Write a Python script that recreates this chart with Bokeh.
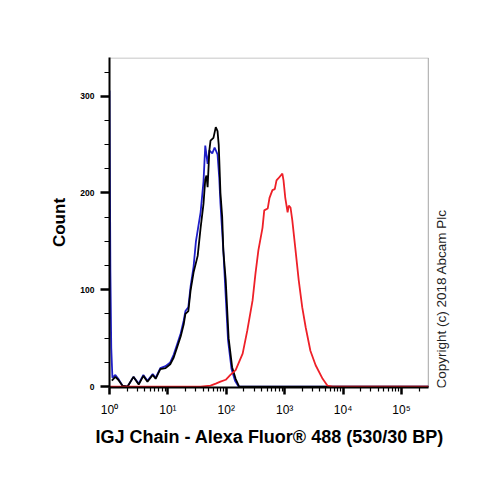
import numpy as np
from bokeh.plotting import figure
from bokeh.models import FixedTicker, Label, BoxAnnotation, Title
from bokeh.embed import file_html
from bokeh.resources import INLINE

# ---- data (x as log10 of fluorescence intensity, y as event count) ----
decades = [0, 1, 2, 3, 4, 5]
x_tick_labels = ["10⁰", "10¹", "10²", "10³", "10⁴", "10⁵"]
y_ticks = [0, 100, 200, 300]
y_minor = [25, 50, 75, 125, 150, 175, 225, 250, 275, 325]

blue_log_x = [0.0, 0.015, 0.03, 0.05, 0.10, 0.15, 0.22, 0.31, 0.41, 0.50, 0.58, 0.65,
              0.74, 0.79, 0.87, 0.96, 1.04, 1.10, 1.16, 1.22, 1.27, 1.30, 1.35, 1.39,
              1.44, 1.48, 1.52, 1.56, 1.61, 1.64, 1.68, 1.71, 1.76, 1.80, 1.85, 1.88,
              1.90, 1.93, 1.95, 1.98, 2.03, 2.09, 2.15, 2.21, 5.46]
blue_count = [306, 120, 40, 9, 12, 8, 1, 0, 10, 3, 12, 6,
              13, 9, 19, 21, 25, 33, 44, 55, 68, 78, 82, 104,
              124, 150, 165, 180, 212, 249, 230, 244, 241, 247, 240, 215,
              189, 160, 140, 105, 48, 18, 6, 0, 0]

black_log_x = [0.04, 0.10, 0.15, 0.22, 0.31, 0.41, 0.50, 0.58, 0.65, 0.74, 0.79, 0.87,
               0.96, 1.04, 1.10, 1.16, 1.22, 1.27, 1.30, 1.35, 1.39, 1.44, 1.51, 1.56,
               1.61, 1.64, 1.66, 1.68, 1.71, 1.73, 1.78, 1.82, 1.85, 1.87, 1.88, 1.90,
               1.93, 1.95, 1.99, 2.04, 2.10, 2.16, 2.22, 5.46]
black_count = [6, 10, 7, 1, 0, 10, 2, 11, 5, 12, 8, 18,
               19, 23, 30, 41, 52, 64, 75, 78, 100, 118, 135, 164,
               189, 214, 218, 206, 244, 254, 257, 268, 264, 250, 234, 200,
               175, 140, 110, 50, 20, 8, 0, 0]

red_log_x = [0.0, 1.56, 1.73, 1.82, 1.90, 1.99, 2.07, 2.16, 2.28, 2.36, 2.45, 2.50,
             2.55, 2.62, 2.65, 2.71, 2.74, 2.79, 2.83, 2.86, 2.89, 2.96, 2.98, 3.01,
             3.05, 3.07, 3.10, 3.13, 3.18, 3.24, 3.30, 3.36, 3.44, 3.53, 3.65, 3.73,
             3.82, 5.46]
red_count = [0, 0, 1, 3, 5, 7, 12, 17, 34, 58, 89, 117,
             141, 164, 182, 184, 195, 203, 204, 213, 215, 220, 213, 195,
             180, 187, 185, 172, 144, 110, 82, 61, 37, 22, 8, 1,
             0, 0]

x_max_log = 5.46      # right edge of the plotting box
x_view_log = 5.925    # frame extends a little further to host the copyright note
y_top = 340

p = figure(width=488, height=463, x_axis_type="log",
           x_range=(1, 10 ** x_view_log), y_range=(-1, y_top),
           output_backend="svg", toolbar_location=None,
           min_border_left=109, min_border_right=33,
           min_border_top=57, min_border_bottom=76)

p.grid.visible = False
p.outline_line_color = None
p.background_fill_color = "white"
p.border_fill_color = "white"

# plotting box (top and right edges of the graph area)
p.add_layout(BoxAnnotation(left=1, right=10 ** x_max_log, bottom=-1, top=y_top - 0.5,
                           fill_color=None, fill_alpha=0,
                           line_color="black", line_width=1.2))

blue_x = np.power(10.0, blue_log_x)
black_x = np.power(10.0, black_log_x)
red_x = np.power(10.0, red_log_x)

p.line(blue_x, blue_count, line_color="#1f1fc8", line_width=1.8)
p.line(black_x, black_count, line_color="black", line_width=1.8)
p.line(red_x, red_count, line_color="#ee2028", line_width=1.8)

for ax in (p.xaxis, p.yaxis):
    ax.axis_line_color = "black"
    ax.major_tick_line_color = "black"
    ax.minor_tick_line_color = "black"
    ax.major_label_text_color = "black"
    ax.axis_label_text_color = "black"
    ax.axis_line_width = 2
    ax.major_tick_in = 0
    ax.minor_tick_in = 0
    ax.major_tick_line_width = 2.5
    ax.minor_tick_line_width = 1.2

# x axis
major = [10 ** d for d in decades]
minor = [m * 10 ** d for d in decades for m in range(2, 10) if np.log10(m * 10 ** d) < x_max_log]
p.xaxis.ticker = FixedTicker(ticks=major, minor_ticks=minor)
p.xaxis.bounds = (1, 10 ** x_max_log)
p.xaxis.major_label_overrides = {10 ** d: lbl for d, lbl in zip(decades, x_tick_labels)}
p.xaxis.major_label_text_font = "Liberation Sans"
p.xaxis.major_label_text_font_size = "12px"
p.xaxis.major_label_standoff = 8
p.xaxis.major_tick_out = 7
p.xaxis.minor_tick_out = 4

# x-axis title, placed under the plotting box (not the wider frame)
x_title = Title(text="IGJ Chain - Alexa Fluor® 488 (530/30 BP)", align="left",
                offset=-14, standoff=11,
                text_font="Liberation Sans", text_font_style="bold",
                text_font_size="18px", text_color="black")
p.add_layout(x_title, "below")

# y axis
p.yaxis.ticker = FixedTicker(ticks=y_ticks, minor_ticks=y_minor)
p.yaxis.axis_label = "Count"
p.yaxis.axis_label_text_font = "Liberation Sans"
p.yaxis.axis_label_text_font_style = "bold"
p.yaxis.axis_label_text_font_size = "17px"
p.yaxis.axis_label_standoff = 8
p.yaxis.major_label_text_font = "Liberation Sans"
p.yaxis.major_label_text_font_style = "bold"
p.yaxis.major_label_text_font_size = "8.5px"
p.yaxis.major_label_orientation = "horizontal"
p.yaxis.major_label_standoff = 6
p.yaxis.major_tick_out = 9
p.yaxis.minor_tick_out = 5

# vertical copyright note right of the plotting box (frame-relative screen units)
copyright_label = Label(x=332, y=-1, x_units="screen", y_units="screen",
                        text="Copyright (c) 2018 Abcam Plc", angle=np.pi / 2,
                        text_align="left", text_baseline="middle",
                        text_font="Liberation Sans", text_font_size="13.5px",
                        text_color="#222222")
p.add_layout(copyright_label)

open("out.html", "w").write(file_html(p, INLINE))
